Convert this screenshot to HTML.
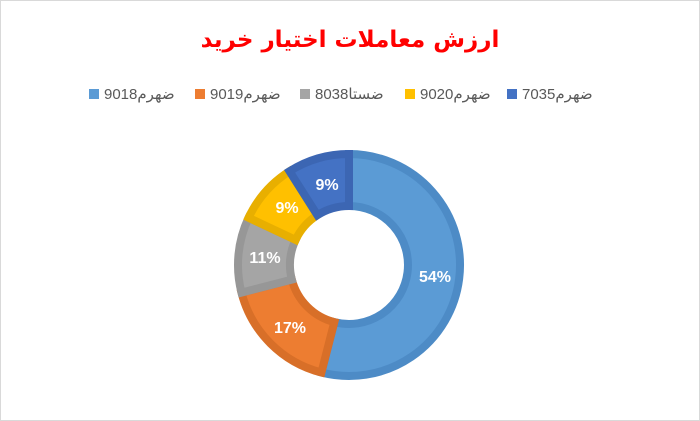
<!DOCTYPE html>
<html><head><meta charset="utf-8"><style>
body{margin:0;width:700px;height:421px;background:#fff;overflow:hidden;font-family:"Liberation Sans","DejaVu Sans",sans-serif;}
.frame{position:absolute;left:0;top:0;width:698px;height:419px;border:1px solid #d9d9d9;}
.title{position:absolute;left:0;width:700px;top:27px;text-align:center;color:#ff0000;font-weight:bold;font-size:23px;font-family:"DejaVu Sans",sans-serif;direction:rtl;}
.lg{position:absolute;top:85px;font-size:15px;color:#595959;white-space:nowrap;}
.lg i{display:inline-block;width:10px;height:10px;margin-right:5px;vertical-align:0px;}
.lg span{unicode-bidi:isolate;direction:rtl;font-family:"Liberation Sans","DejaVu Sans",sans-serif;}
</style></head><body>
<div class="frame"></div>
<div class="title">ارزش معاملات اختیار خرید</div>
<div class="lg" style="left:89px"><i style="background:#5b9bd5"></i><span>ضهرم9018</span></div>
<div class="lg" style="left:195px"><i style="background:#ed7d31"></i><span>ضهرم9019</span></div>
<div class="lg" style="left:300px"><i style="background:#a5a5a5"></i><span>ضستا8038</span></div>
<div class="lg" style="left:405px"><i style="background:#ffc000"></i><span>ضهرم9020</span></div>
<div class="lg" style="left:507px"><i style="background:#4472c4"></i><span>ضهرم7035</span></div>
<svg id="s" width="700" height="421" style="position:absolute;left:0;top:0"></svg>
<script>
var cx=349,cy=265,R=111,r=59;
var d=[[54,"#5b9bd5","#4d8bc6"],[17,"#ed7d31","#d86f28"],[11,"#a5a5a5","#979797"],[9,"#ffc000","#e8af00"],[9,"#4472c4","#3c66b3"]];
var labs=[["54%",435,282],["17%",290,333],["11%",265,263],["9%",287,213],["9%",327,190]];
var a=0,h="";
function p(rad,ang){var t=ang*Math.PI/180;return (cx+rad*Math.sin(t)).toFixed(2)+","+(cy-rad*Math.cos(t)).toFixed(2);}
d.forEach(function(s){var b=a+s[0]*3.6,l=(b-a)>180?1:0;
h+='<path d="M'+p(R,a)+' A'+R+','+R+' 0 '+l+' 1 '+p(R,b)+' L'+p(r,b)+' A'+r+','+r+' 0 '+l+' 0 '+p(r,a)+' Z" fill="'+s[1]+'" stroke="'+s[2]+'" stroke-width="8" stroke-linejoin="miter"/>';a=b;});
labs.forEach(function(l){h+='<text x="'+l[1]+'" y="'+l[2]+'" text-anchor="middle" fill="#fff" font-weight="bold" font-size="16" font-family="Liberation Sans, sans-serif">'+l[0]+'</text>';});
document.getElementById("s").innerHTML=h;
</script>
</body></html>
